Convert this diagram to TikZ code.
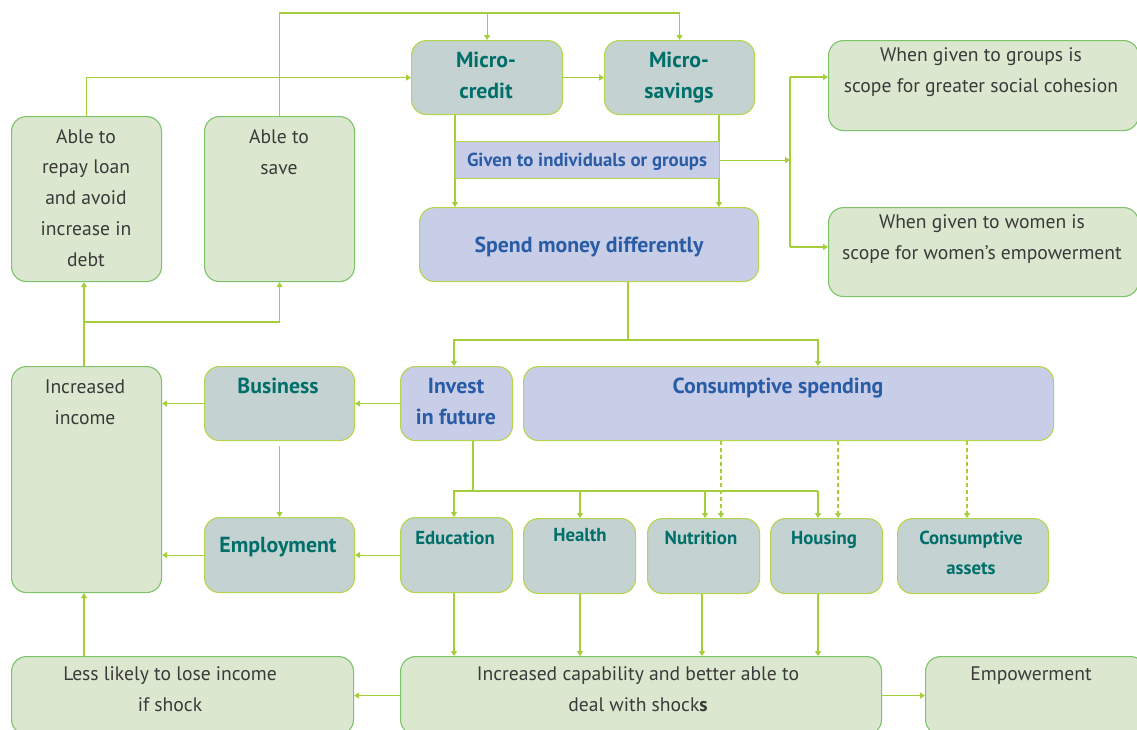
\documentclass[tikz,border=0pt]{standalone}
\usepackage{fontspec}
\setmainfont{PT Sans}
\usetikzlibrary{arrows.meta}
\definecolor{gfill}{HTML}{DCE7CF}
\definecolor{gbord}{HTML}{7DC36A}
\definecolor{sfill}{HTML}{C5D2D2}
\definecolor{lfill}{HTML}{C8CEE8}
\definecolor{lbord}{HTML}{B5D64C}
\definecolor{tealtxt}{HTML}{006F6A}
\definecolor{bluetxt}{HTML}{2A5CA6}
\definecolor{graytxt}{HTML}{3A3A3A}
\definecolor{conn}{HTML}{A6CE39}
\newcommand\bx[6]{\node[#6, anchor=north west, minimum width=#4-#2, minimum height=#5-#3] (#1) at (#2,#3) {};}
\begin{document}
\begin{tikzpicture}[x=1pt,y=-1pt,
  gbox/.style={draw=gbord, fill=gfill, line width=1.1pt, rounded corners=15pt, inner sep=0pt},
  sbox/.style={draw=lbord, fill=sfill, line width=1.1pt, rounded corners=15pt, inner sep=0pt},
  lbox/.style={draw=lbord, fill=lfill, line width=1.1pt, rounded corners=15pt, inner sep=0pt},
  rbox/.style={draw=lbord, fill=lfill, line width=1.1pt, inner sep=0pt},
  rt/.style={font=\fontsize{19.6}{30.7}\selectfont, text=graytxt, align=center, inner sep=0pt, anchor=base},
  bt/.style={font=\fontsize{21.8}{31}\selectfont\bfseries, text=tealtxt, align=center, inner sep=0pt, anchor=base},
  bs/.style={font=\fontsize{18.8}{30}\selectfont\bfseries, text=tealtxt, align=center, inner sep=0pt, anchor=base},
  ln/.style={draw=conn, line width=1.1pt},
  arr/.style={draw=conn, line width=1.1pt, -{Triangle[width=6pt,length=5pt]}},
  dsh/.style={arr, dash pattern=on 4pt off 3pt}]
\clip (0,0) rectangle (1137,729);
\fill[white] (0,0) rectangle (1137,729);
% coordinates
\coordinate (ytop) at (0,13);
\coordinate (xa) at (455,0);
\coordinate (xb) at (719,0);
\coordinate (xs) at (790,0);
\coordinate (ga) at (828,77);
\coordinate (wa) at (828,247);
\coordinate (xsp) at (628,0);
\coordinate (y340) at (0,340);
\coordinate (xi) at (454,0);
\coordinate (xc) at (818,0);
\coordinate (xin) at (473,0);
\coordinate (y491) at (0,491);
\coordinate (xh) at (580,0);
\coordinate (xn) at (705,0);
\coordinate (xn2) at (702,0);
\coordinate (xd1) at (721,0);
\coordinate (xd2) at (838,0);
\coordinate (xd3) at (967,0);
\coordinate (xl) at (84,0);
\coordinate (y322) at (0,322);
% boxes
\bx{mc}{411}{40}{562}{114}{sbox}
\bx{ms}{604}{40}{754}{114}{sbox}
\bx{spend}{419}{207}{758}{281}{lbox}
\bx{grp}{828}{40}{1138}{130}{gbox}
\bx{wom}{828}{207}{1138}{296}{gbox}
\bx{repay}{11}{116}{161}{281}{gbox}
\bx{save}{204}{116}{354}{281}{gbox}
\bx{income}{11}{366}{161}{592}{gbox}
\bx{bus}{204}{366}{354}{440}{sbox}
\bx{inv}{400}{366}{512}{440}{lbox}
\bx{cons}{523}{366}{1053}{440}{lbox}
\bx{emp}{204}{517}{354}{592}{sbox}
\bx{edu}{400}{517}{512}{592}{sbox}
\bx{hea}{523}{518}{635}{593}{sbox}
\bx{nut}{647}{518}{759}{593}{sbox}
\bx{hou}{770}{518}{882}{593}{sbox}
\bx{ass}{897}{518}{1048}{593}{sbox}
\bx{less}{11}{656}{353}{734}{gbox}
\bx{cap}{400}{656}{881}{734}{gbox}
\bx{empw}{925}{656}{1145}{734}{gbox}
% connectors
\draw[arr] (save.north) |- (ytop -| ms.north) -- (ms.north);
\draw[arr] (ytop -| mc.north) -- (mc.north);
\draw[arr] (repay.north) |- (mc.west);
\draw[arr] (mc.east) -- (ms.west);
\draw[arr] (mc.south -| xa) -- (spend.north -| xa);
\draw[arr] (ms.south -| xb) -- (spend.north -| xb);
\bx{given}{455}{141}{719}{178}{rbox}
\draw[arr] (given.east) -- (given.east -| xs);
\draw[ln] (ga -| xs) -- (wa -| xs);
\draw[arr] (ga -| xs) -- (ga);
\draw[arr] (wa -| xs) -- (wa);
\draw[arr] (spend.south -| xsp) |- (y340 -| xi) -- (inv.north -| xi);
\draw[arr] (y340 -| xsp) -| (cons.north -| xc);
\draw[arr] (inv.west) -- (bus.east);
\draw[arr] (bus.west) -- (bus.west -| income.east);
\draw[arr, shorten <=5pt] (bus.south) -- (emp.north);
\draw[arr] (emp.west) -- (emp.west -| income.east);
\draw[arr] (edu.west) -- (emp.east);
\draw[arr] (inv.south -| xin) |- (y491 -| xi) -- (edu.north -| xi);
\draw[ln] (y491 -| xi) -- (y491 -| xc);
\draw[arr] (y491 -| xh) -- (hea.north -| xh);
\draw[arr] (y491 -| xn) -- (nut.north -| xn);
\draw[arr] (y491 -| xc) -- (hou.north -| xc);
\draw[dsh] (cons.south -| xd1) -- (nut.north -| xd1);
\draw[dsh] (cons.south -| xd2) -- (hou.north -| xd2);
\draw[dsh] (cons.south -| xd3) -- (ass.north -| xd3);
\draw[arr] (edu.south -| xi) -- (cap.north -| xi);
\draw[arr] (hea.south -| xh) -- (cap.north -| xh);
\draw[arr] (nut.south -| xn2) -- (cap.north -| xn2);
\draw[arr] (hou.south -| xc) -- (cap.north -| xc);
\draw[arr] (cap.west) -- (less.east);
\draw[arr] (cap.east) -- (empw.west);
\draw[arr] (less.north -| xl) -- (income.south -| xl);
\draw[arr] (income.north -| xl) -- (repay.south -| xl);
\draw[arr] (y322 -| xl) -| (save.south);
% texts (anchor base = last line baseline)
\node[bt] (mct) at (486,98) {Micro-\\credit};
\node[bt] (mst) at (679,98) {Micro-\\savings};
\node[bs, text=bluetxt] (givent) at (587,166) {Given to individuals or groups};
\node[bt, text=bluetxt] (spendt) at (589,252) {Spend money differently};
\node[rt] (grpt) at (981,92) {When given to groups is\\scope for greater social cohesion};
\node[rt] (womt) at (982,259) {When given to women is\\scope for women’s empowerment};
\node[rt] (repayt) at (86,266) {Able to\\repay loan\\and avoid\\increase in\\debt};
\node[rt] (savet) at (279,174) {Able to\\save};
\node[rt] (incomet) at (85,424) {Increased\\income};
\node[bt] (bust) at (278,393) {Business};
\node[bt, text=bluetxt] (invt) at (456,424) {Invest\\in future};
\node[bt, text=bluetxt] (const) at (778,393) {Consumptive spending};
\node[bt] (empt) at (278,552) {Employment};
\node[bs] (edut) at (455,544) {Education};
\node[bs] (heat) at (580,541) {Health};
\node[bs] (nutt) at (701,544) {Nutrition};
\node[bs] (hout) at (824,544) {Housing};
\node[bs] (asst) at (971,574) {Consumptive\\assets};
\node[rt] (lesst) at (170,711) {Less likely to lose income\\if shock};
\node[rt] (capt) at (638,711) {Increased capability and better able to\\deal with shock\textbf{s}};
\node[rt] (empwt) at (1031,680) {Empowerment};
\end{tikzpicture}
\end{document}
